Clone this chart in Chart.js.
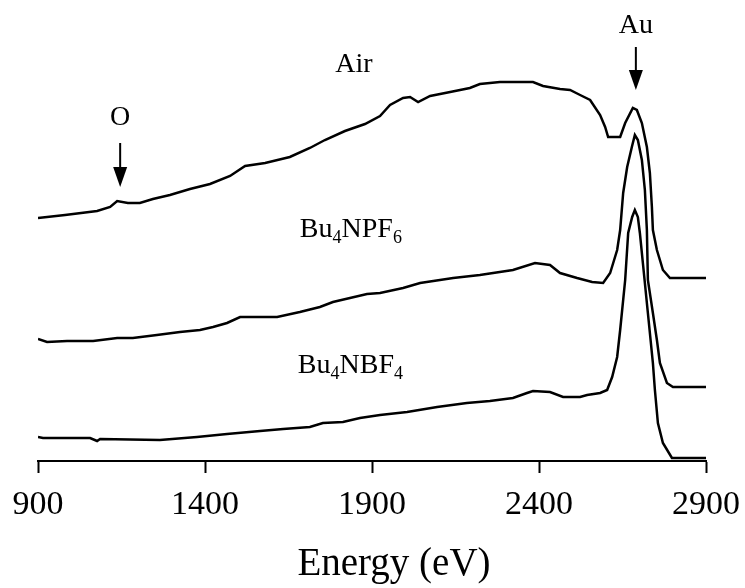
<!DOCTYPE html>
<html>
<head>
<meta charset="utf-8">
<script src="https://cdn.jsdelivr.net/npm/chart.js@4/dist/chart.umd.min.js"></script>
<style>
  html, body { margin: 0; padding: 0; background: #fff; }
  #wrap { width: 745px; height: 588px; position: relative; }
</style>
</head>
<body>
<div id="wrap"><canvas id="xasChart"></canvas></div>
<script>
// energy (eV) and intensity (offset, arbitrary units)
const AIR_E = [900, 981, 1077, 1116, 1137, 1169, 1205, 1244, 1295, 1355, 1415, 1475, 1520, 1580, 1654, 1714, 1759, 1819, 1879, 1924, 1954, 1993, 2014, 2038, 2074, 2134, 2193, 2223, 2283, 2343, 2382, 2412, 2463, 2493, 2523, 2553, 2583, 2598, 2607, 2643, 2658, 2681, 2693, 2708, 2723, 2732, 2738, 2741, 2753, 2771, 2792, 2900];
const AIR_I = [243, 246, 250, 254, 260, 258, 258, 262, 266, 272, 277, 285, 295, 298, 304, 313, 321, 330, 337, 345, 356, 363, 364, 359, 365, 369, 373, 377, 379, 379, 379, 375, 372, 371, 366, 361, 346, 334, 324, 324, 338, 353, 351, 338, 314, 288, 254, 231, 211, 191, 183, 183];

const PF6_E = [900, 927, 987, 1065, 1137, 1184, 1256, 1325, 1385, 1424, 1466, 1505, 1616, 1684, 1744, 1783, 1834, 1885, 1924, 1993, 2044, 2143, 2223, 2322, 2388, 2433, 2463, 2514, 2559, 2592, 2613, 2634, 2643, 2652, 2664, 2678, 2687, 2696, 2708, 2717, 2723, 2726, 2741, 2753, 2762, 2783, 2801, 2900];
const PF6_I = [122, 119, 120, 120, 123, 123, 126, 129, 131, 134, 138, 144, 144, 149, 154, 159, 163, 167, 168, 173, 178, 183, 186, 191, 198, 196, 188, 183, 179, 178, 188, 211, 231, 268, 294, 314, 326, 321, 301, 271, 231, 181, 148, 121, 98, 78, 74, 74];

const BF4_E = [900, 915, 1056, 1077, 1086, 1265, 1376, 1466, 1565, 1634, 1714, 1753, 1813, 1864, 1924, 2005, 2095, 2184, 2253, 2322, 2364, 2382, 2433, 2472, 2523, 2544, 2583, 2604, 2619, 2634, 2643, 2658, 2667, 2679, 2687, 2696, 2702, 2711, 2726, 2741, 2747, 2756, 2771, 2798, 2900];
const BF4_I = [24, 23, 23, 20, 22, 21, 24, 27, 30, 32, 34, 38, 39, 43, 46, 49, 54, 58, 60, 63, 68, 70, 69, 64, 64, 66, 68, 71, 84, 104, 131, 181, 228, 244, 251, 244, 228, 198, 148, 98, 71, 38, 18, 3, 3];

const X_TICKS = [900, 1400, 1900, 2400, 2900];

// text labels: [main, sub, main, sub] pieces, anchored in data coords
const LABELS = [
  { parts: ["Air"], e: 1846, i: 389, align: "center" },
  { parts: ["O"], e: 1146, i: 336, align: "center" },
  { parts: ["Au"], e: 2690, i: 428, align: "center" },
  { parts: ["Bu", "4", "NPF", "6"], e: 1684, i: 224, align: "left" },
  { parts: ["Bu", "4", "NBF", "4"], e: 1678, i: 88, align: "left" }
];
// arrows: energy, intensity at tail, intensity at tip
const ARROWS = [
  { e: 1146, from: 318, to: 274 },
  { e: 2690, from: 414, to: 371 }
];

const SERIF = "'Liberation Serif', 'Times New Roman', serif";

function toPoints(es, is) {
  return es.map((e, k) => ({ x: e, y: is[k] }));
}

const labelPlugin = {
  id: "labels",
  afterDraw(chart) {
    const { ctx, scales: { x, y }, chartArea } = chart;
    ctx.save();
    ctx.fillStyle = "#000";
    ctx.strokeStyle = "#000";
    ctx.textBaseline = "alphabetic";

    LABELS.forEach(lb => {
      const px = x.getPixelForValue(lb.e);
      const py = y.getPixelForValue(lb.i);
      let w = 0;
      lb.parts.forEach((p, k) => {
        ctx.font = (k % 2 ? "18px " : "28px ") + SERIF;
        w += ctx.measureText(p).width;
      });
      let cx = lb.align === "center" ? px - w / 2 : px;
      ctx.textAlign = "left";
      lb.parts.forEach((p, k) => {
        const sub = k % 2 === 1;
        ctx.font = (sub ? "18px " : "28px ") + SERIF;
        ctx.fillText(p, cx, sub ? py + 6 : py);
        cx += ctx.measureText(p).width;
      });
    });

    ARROWS.forEach(a => {
      const px = x.getPixelForValue(a.e);
      const y0 = y.getPixelForValue(a.from);
      const y1 = y.getPixelForValue(a.to);
      ctx.lineWidth = 2;
      ctx.beginPath();
      ctx.moveTo(px, y0);
      ctx.lineTo(px, y1 - 18);
      ctx.stroke();
      ctx.beginPath();
      ctx.moveTo(px - 7, y1 - 20);
      ctx.lineTo(px + 7, y1 - 20);
      ctx.lineTo(px, y1);
      ctx.closePath();
      ctx.fill();
    });

    // axis title
    ctx.font = "39px " + SERIF;
    ctx.textAlign = "center";
    ctx.fillText("Energy (eV)", (chartArea.left + chartArea.right) / 2 + 22, 575);
    ctx.restore();
  }
};

const lineStyle = {
  borderColor: "#000",
  borderWidth: 2.5,
  pointRadius: 0,
  fill: false,
  tension: 0,
  showLine: true
};

new Chart(document.getElementById("xasChart"), {
  type: "scatter",
  data: {
    datasets: [
      { label: "Air", data: toPoints(AIR_E, AIR_I), ...lineStyle },
      { label: "Bu4NPF6", data: toPoints(PF6_E, PF6_I), ...lineStyle },
      { label: "Bu4NBF4", data: toPoints(BF4_E, BF4_I), ...lineStyle }
    ]
  },
  options: {
    responsive: true,
    maintainAspectRatio: false,
    animation: false,
    layout: { padding: { top: 10, left: 38, right: 39, bottom: 0 } },
    plugins: {
      legend: { display: false },
      tooltip: { enabled: false }
    },
    scales: {
      x: {
        type: "linear",
        min: 900,
        max: 2900,
        afterBuildTicks: axis => { axis.ticks = X_TICKS.map(v => ({ value: v })); },
        afterFit: axis => {
          axis.height = 127;
          axis.paddingLeft = 0;
          axis.paddingRight = 0;
        },
        ticks: {
          color: "#000",
          padding: 12,
          maxRotation: 0,
          font: { family: SERIF, size: 34 },
          callback: v => String(v)
        },
        grid: {
          drawOnChartArea: false,
          drawTicks: true,
          tickLength: 12,
          tickWidth: 2,
          tickColor: "#000"
        },
        border: { display: true, color: "#000", width: 2 }
      },
      y: {
        display: false,
        min: 0,
        max: 451
      }
    }
  },
  plugins: [labelPlugin]
});
</script>
</body>
</html>
